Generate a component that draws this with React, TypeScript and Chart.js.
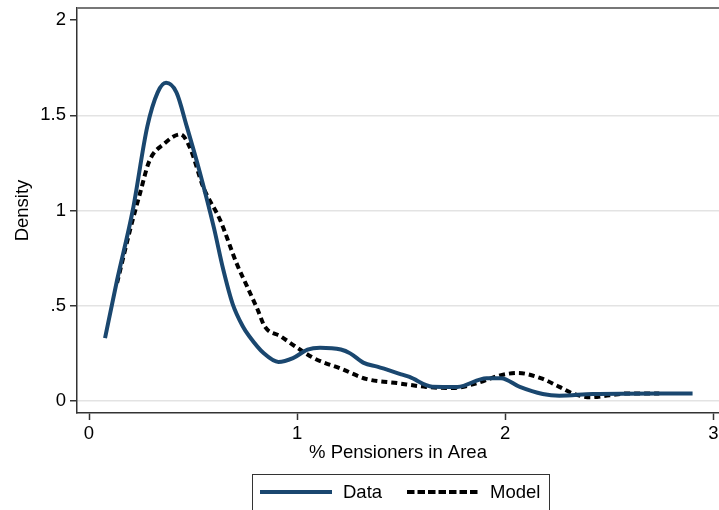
import React, { useEffect, useRef } from "react";
import { Chart, registerables } from "chart.js";

Chart.register(...registerables);

const seriesNames = ["Data", "Model"];

const dataX = [0.077, 0.135, 0.21, 0.28, 0.33, 0.37, 0.42, 0.47, 0.53, 0.6, 0.645, 0.69, 0.74, 0.77, 0.84, 0.91, 0.98, 1.05, 1.11, 1.21, 1.255, 1.32, 1.385, 1.5, 1.54, 1.65, 1.77, 1.91, 1.98, 2.07, 2.18, 2.26, 2.42, 2.75, 2.9];
const dataY = [0.33, 0.635, 1.0, 1.44, 1.62, 1.67, 1.62, 1.44, 1.21, 0.91, 0.69, 0.51, 0.39, 0.34, 0.25, 0.205, 0.225, 0.27, 0.28, 0.27, 0.25, 0.2, 0.18, 0.14, 0.126, 0.075, 0.074, 0.12, 0.12, 0.074, 0.037, 0.028, 0.037, 0.04, 0.04];

const modelX = [0.135, 0.2, 0.245, 0.29, 0.36, 0.44, 0.485, 0.55, 0.63, 0.71, 0.76, 0.81, 0.845, 0.92, 1.0, 1.08, 1.21, 1.335, 1.48, 1.62, 1.75, 1.865, 1.98, 2.06, 2.17, 2.26, 2.33, 2.41, 2.5, 2.59, 2.74];
const modelY = [0.62, 0.91, 1.09, 1.26, 1.35, 1.4, 1.33, 1.12, 0.95, 0.72, 0.6, 0.48, 0.39, 0.34, 0.28, 0.225, 0.17, 0.115, 0.094, 0.074, 0.068, 0.094, 0.136, 0.147, 0.12, 0.074, 0.037, 0.02, 0.03, 0.04, 0.04];

const xTicks = [0, 1, 2, 3];
const yTicks = [0, 0.5, 1, 1.5, 2];
const yTickLabels = ["0", ".5", "1", "1.5", "2"];

const NAVY = "#1a476f";
const FONT = "'Liberation Sans', Arial, sans-serif";

const boxLegend = {
  id: "boxLegend",
  afterDraw(chart: any) {
    const ctx = chart.ctx;
    const { left, right, top } = chart.chartArea;
    ctx.save();
    ctx.strokeStyle = "#777";
    ctx.lineWidth = 2;
    ctx.beginPath();
    ctx.moveTo(left, top);
    ctx.lineTo(right, top);
    ctx.stroke();
    ctx.strokeStyle = "#333";
    ctx.lineWidth = 1;
    ctx.strokeRect(252.5, 474.5, 297, 40);
    ctx.lineCap = "butt";
    ctx.lineWidth = 4;
    ctx.strokeStyle = NAVY;
    ctx.setLineDash([]);
    ctx.beginPath();
    ctx.moveTo(260, 492);
    ctx.lineTo(332, 492);
    ctx.stroke();
    ctx.strokeStyle = "#000";
    ctx.setLineDash([7.5, 3]);
    ctx.beginPath();
    ctx.moveTo(407, 492);
    ctx.lineTo(479, 492);
    ctx.stroke();
    ctx.setLineDash([]);
    ctx.fillStyle = "#000";
    ctx.font = `18.5px ${FONT}`;
    ctx.textBaseline = "middle";
    ctx.textAlign = "left";
    ctx.fillText(seriesNames[0], 343, 493);
    ctx.fillText(seriesNames[1], 490, 493);
    ctx.restore();
  },
};

export default function App() {
  const ref = useRef<HTMLCanvasElement>(null);
  useEffect(() => {
    if (!ref.current) return;
    const chart = new Chart(ref.current, {
      type: "line",
      data: {
        datasets: [
          {
            label: seriesNames[0],
            data: dataX.map((x, i) => ({ x, y: dataY[i] })),
            borderColor: NAVY,
            borderWidth: 4,
            pointRadius: 0,
            cubicInterpolationMode: "monotone",
            fill: false,
          },
          {
            label: seriesNames[1],
            data: modelX.map((x, i) => ({ x, y: modelY[i] })),
            borderColor: "#000",
            borderWidth: 4,
            borderDash: [6, 4],
            pointRadius: 0,
            cubicInterpolationMode: "monotone",
            fill: false,
          },
        ],
      },
      options: {
        animation: false,
        responsive: false,
        layout: { padding: { top: 8, right: 0, left: 0, bottom: 0 } },
        plugins: { legend: { display: false }, tooltip: { enabled: false } },
        scales: {
          x: {
            type: "linear",
            min: -0.0577,
            max: 3.027,
            afterFit: (s: any) => {
              s.height = 97;
              s.paddingLeft = 0;
              s.paddingRight = 0;
            },
            afterBuildTicks: (s: any) => {
              s.ticks = xTicks.map((v) => ({ value: v }));
            },
            grid: {
              drawOnChartArea: false,
              tickLength: 7,
              tickColor: "#333",
              tickWidth: 1.5,
            },
            border: { color: "#333", width: 1.5 },
            ticks: {
              color: "#000",
              padding: 3,
              font: { family: FONT, size: 18.5 },
              maxRotation: 0,
              callback: (v: any) => String(v),
            },
            title: {
              display: true,
              text: "% Pensioners in Area",
              color: "#000",
              font: { family: FONT, size: 18.5 },
              padding: { top: 0, bottom: 46 },
            },
          },
          y: {
            type: "linear",
            min: -0.063,
            max: 2.063,
            afterFit: (s: any) => {
              s.width = 77;
              s.paddingTop = 0;
              s.paddingBottom = 0;
            },
            afterBuildTicks: (s: any) => {
              s.ticks = yTicks.map((v) => ({ value: v }));
            },
            grid: {
              color: (c: any) => (c.tick && c.tick.value === 2 ? "rgba(0,0,0,0)" : "#e3e3e3"),
              lineWidth: 1.5,
              tickLength: 7,
              tickColor: "#333",
              tickWidth: 1.5,
            },
            border: { color: "#333", width: 1.5 },
            ticks: {
              color: "#000",
              padding: 4,
              font: { family: FONT, size: 18.5 },
              callback: (v: any) => {
                const i = yTicks.indexOf(Number(v));
                return i >= 0 ? yTickLabels[i] : "";
              },
            },
            title: {
              display: true,
              text: "Density",
              color: "#000",
              font: { family: FONT, size: 18.5 },
              padding: { top: 12, bottom: 0 },
            },
          },
        },
      },
      plugins: [boxLegend],
    });
    return () => chart.destroy();
  }, []);
  return (
    <div style={{ position: "absolute", left: 0, top: 0, width: 719, height: 510, background: "#fff" }}>
      <canvas ref={ref} width={719} height={510} />
    </div>
  );
}
